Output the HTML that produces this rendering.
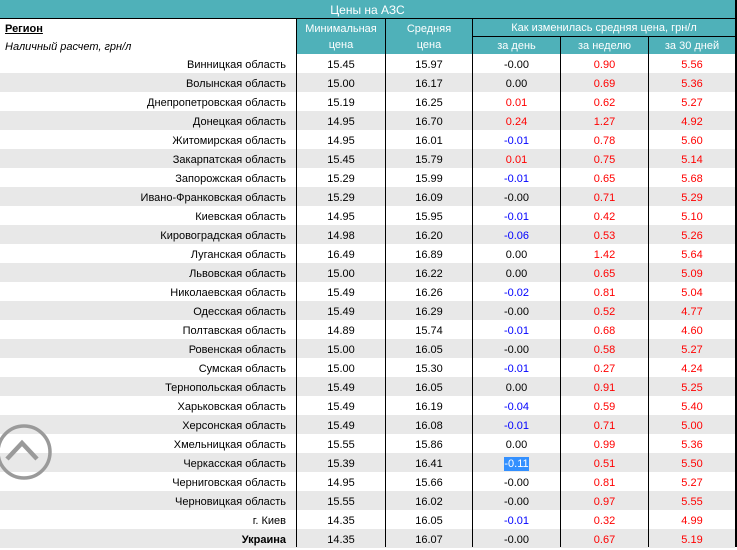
<!DOCTYPE html>
<html><head><meta charset="utf-8">
<style>
html,body{margin:0;padding:0;background:#fff;}
body{width:737px;height:547px;overflow:hidden;position:relative;font-family:"Liberation Sans",Arial,sans-serif;font-size:11px;color:#000;}
.abs{position:absolute;}
.teal{background:#4fb1b9;}
.vl{position:absolute;width:1px;background:#000;}
.hl{position:absolute;height:1px;background:#000;}
.row{position:absolute;left:0;width:735px;height:19px;line-height:19px;}
.g{background:#e8e8e8;}
.row span{position:absolute;top:2px;text-align:center;white-space:nowrap;}
.c1{left:0;width:286px;text-align:right!important;}
.c2{left:297px;width:88px;}
.c3{left:386px;width:86px;}
.c4{left:473px;width:87px;}
.c5{left:561px;width:87px;}
.c6{left:649px;width:86px;}
.r{color:#ff0000;}
.b{color:#0000ff;}
.ht{position:absolute;color:#fff;text-align:center;white-space:nowrap;line-height:14px;}
.sel{background:#3390ff;color:#fff;padding:1px 0;}
</style></head><body>

<div class="abs teal" style="left:0;top:0;width:735px;height:18px;"></div>
<div class="ht" style="left:0;top:3px;width:735px;font-size:12px;">Цены на АЗС</div>
<div class="hl" style="left:0;top:18px;width:737px;"></div>

<div class="abs teal" style="left:297px;top:19px;width:438px;height:35px;"></div>
<div class="abs" style="left:5px;top:22px;font-weight:bold;text-decoration:underline;line-height:14px;">Регион</div>
<div class="abs" style="left:5px;top:40px;font-style:italic;line-height:14px;">Наличный расчет, грн/л</div>

<div class="ht" style="left:297px;top:22px;width:88px;">Минимальная</div>
<div class="ht" style="left:297px;top:38px;width:88px;">цена</div>
<div class="ht" style="left:386px;top:22px;width:86px;">Средняя</div>
<div class="ht" style="left:386px;top:38px;width:86px;">цена</div>
<div class="ht" style="left:473px;top:21px;width:262px;">Как изменилась средняя цена, грн/л</div>
<div class="hl" style="left:473px;top:36px;width:262px;"></div>
<div class="ht" style="left:473px;top:39px;width:87px;">за день</div>
<div class="ht" style="left:561px;top:39px;width:87px;">за неделю</div>
<div class="ht" style="left:649px;top:39px;width:86px;">за 30 дней</div>

<div class="row" style="top:54px;"><span class="c1">Винницкая область</span><span class="c2">15.45</span><span class="c3">15.97</span><span class="c4">-0.00</span><span class="c5 r">0.90</span><span class="c6 r">5.56</span></div>
<div class="row g" style="top:73px;"><span class="c1">Волынская область</span><span class="c2">15.00</span><span class="c3">16.17</span><span class="c4">0.00</span><span class="c5 r">0.69</span><span class="c6 r">5.36</span></div>
<div class="row" style="top:92px;"><span class="c1">Днепропетровская область</span><span class="c2">15.19</span><span class="c3">16.25</span><span class="c4 r">0.01</span><span class="c5 r">0.62</span><span class="c6 r">5.27</span></div>
<div class="row g" style="top:111px;"><span class="c1">Донецкая область</span><span class="c2">14.95</span><span class="c3">16.70</span><span class="c4 r">0.24</span><span class="c5 r">1.27</span><span class="c6 r">4.92</span></div>
<div class="row" style="top:130px;"><span class="c1">Житомирская область</span><span class="c2">14.95</span><span class="c3">16.01</span><span class="c4 b">-0.01</span><span class="c5 r">0.78</span><span class="c6 r">5.60</span></div>
<div class="row g" style="top:149px;"><span class="c1">Закарпатская область</span><span class="c2">15.45</span><span class="c3">15.79</span><span class="c4 r">0.01</span><span class="c5 r">0.75</span><span class="c6 r">5.14</span></div>
<div class="row" style="top:168px;"><span class="c1">Запорожская область</span><span class="c2">15.29</span><span class="c3">15.99</span><span class="c4 b">-0.01</span><span class="c5 r">0.65</span><span class="c6 r">5.68</span></div>
<div class="row g" style="top:187px;"><span class="c1">Ивано-Франковская область</span><span class="c2">15.29</span><span class="c3">16.09</span><span class="c4">-0.00</span><span class="c5 r">0.71</span><span class="c6 r">5.29</span></div>
<div class="row" style="top:206px;"><span class="c1">Киевская область</span><span class="c2">14.95</span><span class="c3">15.95</span><span class="c4 b">-0.01</span><span class="c5 r">0.42</span><span class="c6 r">5.10</span></div>
<div class="row g" style="top:225px;"><span class="c1">Кировоградская область</span><span class="c2">14.98</span><span class="c3">16.20</span><span class="c4 b">-0.06</span><span class="c5 r">0.53</span><span class="c6 r">5.26</span></div>
<div class="row" style="top:244px;"><span class="c1">Луганская область</span><span class="c2">16.49</span><span class="c3">16.89</span><span class="c4">0.00</span><span class="c5 r">1.42</span><span class="c6 r">5.64</span></div>
<div class="row g" style="top:263px;"><span class="c1">Львовская область</span><span class="c2">15.00</span><span class="c3">16.22</span><span class="c4">0.00</span><span class="c5 r">0.65</span><span class="c6 r">5.09</span></div>
<div class="row" style="top:282px;"><span class="c1">Николаевская область</span><span class="c2">15.49</span><span class="c3">16.26</span><span class="c4 b">-0.02</span><span class="c5 r">0.81</span><span class="c6 r">5.04</span></div>
<div class="row g" style="top:301px;"><span class="c1">Одесская область</span><span class="c2">15.49</span><span class="c3">16.29</span><span class="c4">-0.00</span><span class="c5 r">0.52</span><span class="c6 r">4.77</span></div>
<div class="row" style="top:320px;"><span class="c1">Полтавская область</span><span class="c2">14.89</span><span class="c3">15.74</span><span class="c4 b">-0.01</span><span class="c5 r">0.68</span><span class="c6 r">4.60</span></div>
<div class="row g" style="top:339px;"><span class="c1">Ровенская область</span><span class="c2">15.00</span><span class="c3">16.05</span><span class="c4">-0.00</span><span class="c5 r">0.58</span><span class="c6 r">5.27</span></div>
<div class="row" style="top:358px;"><span class="c1">Сумская область</span><span class="c2">15.00</span><span class="c3">15.30</span><span class="c4 b">-0.01</span><span class="c5 r">0.27</span><span class="c6 r">4.24</span></div>
<div class="row g" style="top:377px;"><span class="c1">Тернопольская область</span><span class="c2">15.49</span><span class="c3">16.05</span><span class="c4">0.00</span><span class="c5 r">0.91</span><span class="c6 r">5.25</span></div>
<div class="row" style="top:396px;"><span class="c1">Харьковская область</span><span class="c2">15.49</span><span class="c3">16.19</span><span class="c4 b">-0.04</span><span class="c5 r">0.59</span><span class="c6 r">5.40</span></div>
<div class="row g" style="top:415px;"><span class="c1">Херсонская область</span><span class="c2">15.49</span><span class="c3">16.08</span><span class="c4 b">-0.01</span><span class="c5 r">0.71</span><span class="c6 r">5.00</span></div>
<div class="row" style="top:434px;"><span class="c1">Хмельницкая область</span><span class="c2">15.55</span><span class="c3">15.86</span><span class="c4">0.00</span><span class="c5 r">0.99</span><span class="c6 r">5.36</span></div>
<div class="row g" style="top:453px;"><span class="c1">Черкасская область</span><span class="c2">15.39</span><span class="c3">16.41</span><span class="c4"><b class="sel" style="font-weight:normal;">-0.11</b></span><span class="c5 r">0.51</span><span class="c6 r">5.50</span></div>
<div class="row" style="top:472px;"><span class="c1">Черниговская область</span><span class="c2">14.95</span><span class="c3">15.66</span><span class="c4">-0.00</span><span class="c5 r">0.81</span><span class="c6 r">5.27</span></div>
<div class="row g" style="top:491px;"><span class="c1">Черновицкая область</span><span class="c2">15.55</span><span class="c3">16.02</span><span class="c4">-0.00</span><span class="c5 r">0.97</span><span class="c6 r">5.55</span></div>
<div class="row" style="top:510px;"><span class="c1">г. Киев</span><span class="c2">14.35</span><span class="c3">16.05</span><span class="c4 b">-0.01</span><span class="c5 r">0.32</span><span class="c6 r">4.99</span></div>
<div class="row g" style="top:529px;"><span class="c1" style="font-weight:bold;">Украина</span><span class="c2">14.35</span><span class="c3">16.07</span><span class="c4">-0.00</span><span class="c5 r">0.67</span><span class="c6 r">5.19</span></div>

<div class="vl" style="left:296px;top:18px;height:529px;"></div>
<div class="vl" style="left:385px;top:18px;height:529px;"></div>
<div class="vl" style="left:472px;top:18px;height:529px;"></div>
<div class="vl" style="left:560px;top:36px;height:511px;"></div>
<div class="vl" style="left:648px;top:36px;height:511px;"></div>
<div class="vl" style="left:735px;top:0;height:547px;width:2px;"></div>

<svg class="abs" style="left:0;top:420px;" width="60" height="70" viewBox="0 0 60 70">
<circle cx="24" cy="32" r="26" fill="none" stroke="#9a9a9a" stroke-width="3.5"/>
<polyline points="7,39 22,23 37,39" fill="none" stroke="#9a9a9a" stroke-width="4.5"/>
</svg>

</body></html>
